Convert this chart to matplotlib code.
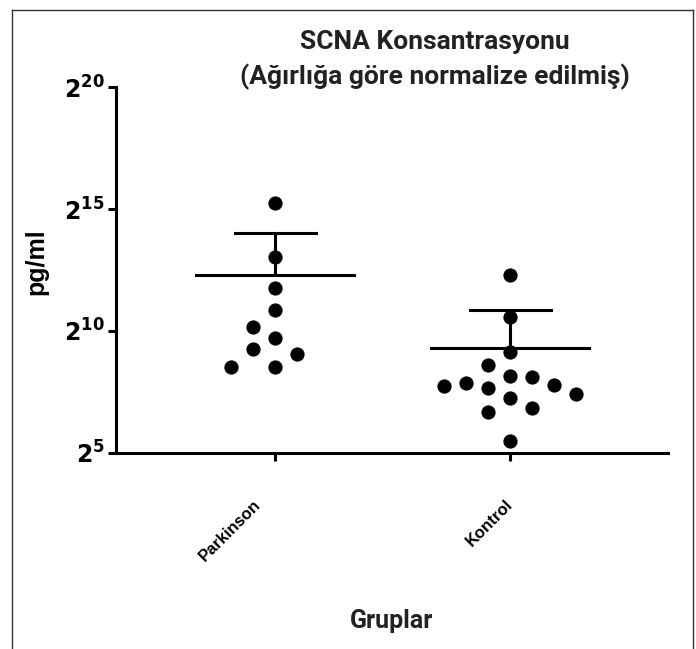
import numpy as np
import matplotlib
matplotlib.use('Agg')
import matplotlib.pyplot as plt
from matplotlib.lines import Line2D

# values (pg/ml)
groups = ['Parkinson', 'Kontrol']
parkinson = [39000, 8400, 3500, 1860, 1140, 840, 610, 535, 367, 367]
kontrol = [5040, 1520, 564, 391, 286, 276, 234, 221, 215, 202, 171, 152, 115, 103, 45]
means = [5040, 630]
sems = [11560, 1230]
yticks = [2**5, 2**10, 2**15, 2**20]
ytick_labels = [r'$\mathbf{2^{5}}$', r'$\mathbf{2^{10}}$', r'$\mathbf{2^{15}}$', r'$\mathbf{2^{20}}$']

plt.rcParams['mathtext.fontset'] = 'custom'
plt.rcParams['mathtext.rm'] = 'DejaVu Sans'
plt.rcParams['mathtext.bf'] = 'DejaVu Sans:bold'

W, H = 696, 649
fig = plt.figure(figsize=(W/100, H/100), dpi=100)
ax = fig.add_axes([116/W, 1 - 453/H, (668-116)/W, (453-87)/H])

ax.set_yscale('log', base=2)
ax.set_ylim(2**5, 2**20)
ax.set_xlim(-0.677, 1.672)
ax.set_yticks(yticks)
ax.set_yticklabels(ytick_labels, fontsize=17)
ax.minorticks_off()
ax.set_xticks(range(len(groups)))
ax.set_xticklabels([])

# rotated group names (Parkinson sits a little further left in the original)
shift = [-17, 0]
for i, g in enumerate(groups):
    ax.annotate(g, xy=(i, 0), xycoords=('data', 'axes fraction'),
                xytext=(shift[i], -49), textcoords='offset pixels',
                rotation=45, ha='right', va='center', rotation_mode='anchor',
                fontsize=12, fontweight='bold', family='Liberation Sans')

for s in ['top', 'right']:
    ax.spines[s].set_visible(False)
for s in ['left', 'bottom']:
    ax.spines[s].set_linewidth(2.2)
ax.tick_params(axis='both', width=2.2, length=6, color='black')
ax.tick_params(axis='y', pad=2)

fig.text(36/W, 1 - 262/H, 'pg/ml', rotation=90, ha='center', va='center',
         fontsize=18, fontweight='bold', family='Liberation Sans')
fig.text(392/W, 1 - 621/H, 'Gruplar', ha='center', va='center',
         fontsize=18, fontweight='bold', family='Roboto', color='#222222')


def swarm(ax, xc, vals, d=22, step=11):
    # simple greedy beeswarm in pixel space
    vals = np.asarray(vals, dtype=float)
    pts = ax.transData.transform(np.column_stack([np.full(len(vals), xc), vals]))
    order = np.argsort(vals)[::-1]
    placed = []
    xs = np.zeros(len(vals))
    ks = [0]
    for k in range(1, 12):
        ks += [-k, k]
    for i in order:
        y = pts[i, 1]
        for k in ks:
            x = pts[i, 0] + k * step
            if all((x - px)**2 + (y - py)**2 >= d*d for px, py in placed):
                break
        placed.append((x, y))
        xs[i] = x
    return ax.transData.inverted().transform(np.column_stack([xs, pts[:, 1]]))[:, 0]


for i, vals in enumerate([parkinson, kontrol]):
    xs = swarm(ax, i, vals)
    ax.scatter(xs, vals, s=105, color='black', zorder=3, linewidths=0)
    # mean line + upper SEM (lower end is below zero on log axis)
    ax.plot([i - 0.335, i + 0.335], [means[i], means[i]], color='black', lw=2.2, zorder=2)
    ax.plot([i, i], [means[i], means[i] + sems[i]], color='black', lw=2.2, zorder=2)
    ax.plot([i - 0.172, i + 0.172], [means[i] + sems[i]] * 2, color='black', lw=2.2, zorder=2)

fig.text(435/W, 1 - 42/H, 'SCNA Konsantrasyonu', ha='center', va='center',
         fontsize=19, fontweight='bold', family='Roboto', color='#222222')
fig.text(435/W, 1 - 77/H, '(Ağırlığa göre normalize edilmiş)', ha='center', va='center',
         fontsize=19, fontweight='bold', family='Roboto', color='#222222')

# outer frame
fc = '#333333'
fig.add_artist(Line2D([12/W, 12/W], [0, 1 - 10/H], color=fc, lw=1, transform=fig.transFigure))
fig.add_artist(Line2D([12/W, 693/W], [1 - 10/H, 1 - 10/H], color=fc, lw=1, transform=fig.transFigure))
fig.add_artist(Line2D([693/W, 693/W], [0, 1 - 10/H], color=fc, lw=1, transform=fig.transFigure))

fig.savefig('out.png', dpi=100)
